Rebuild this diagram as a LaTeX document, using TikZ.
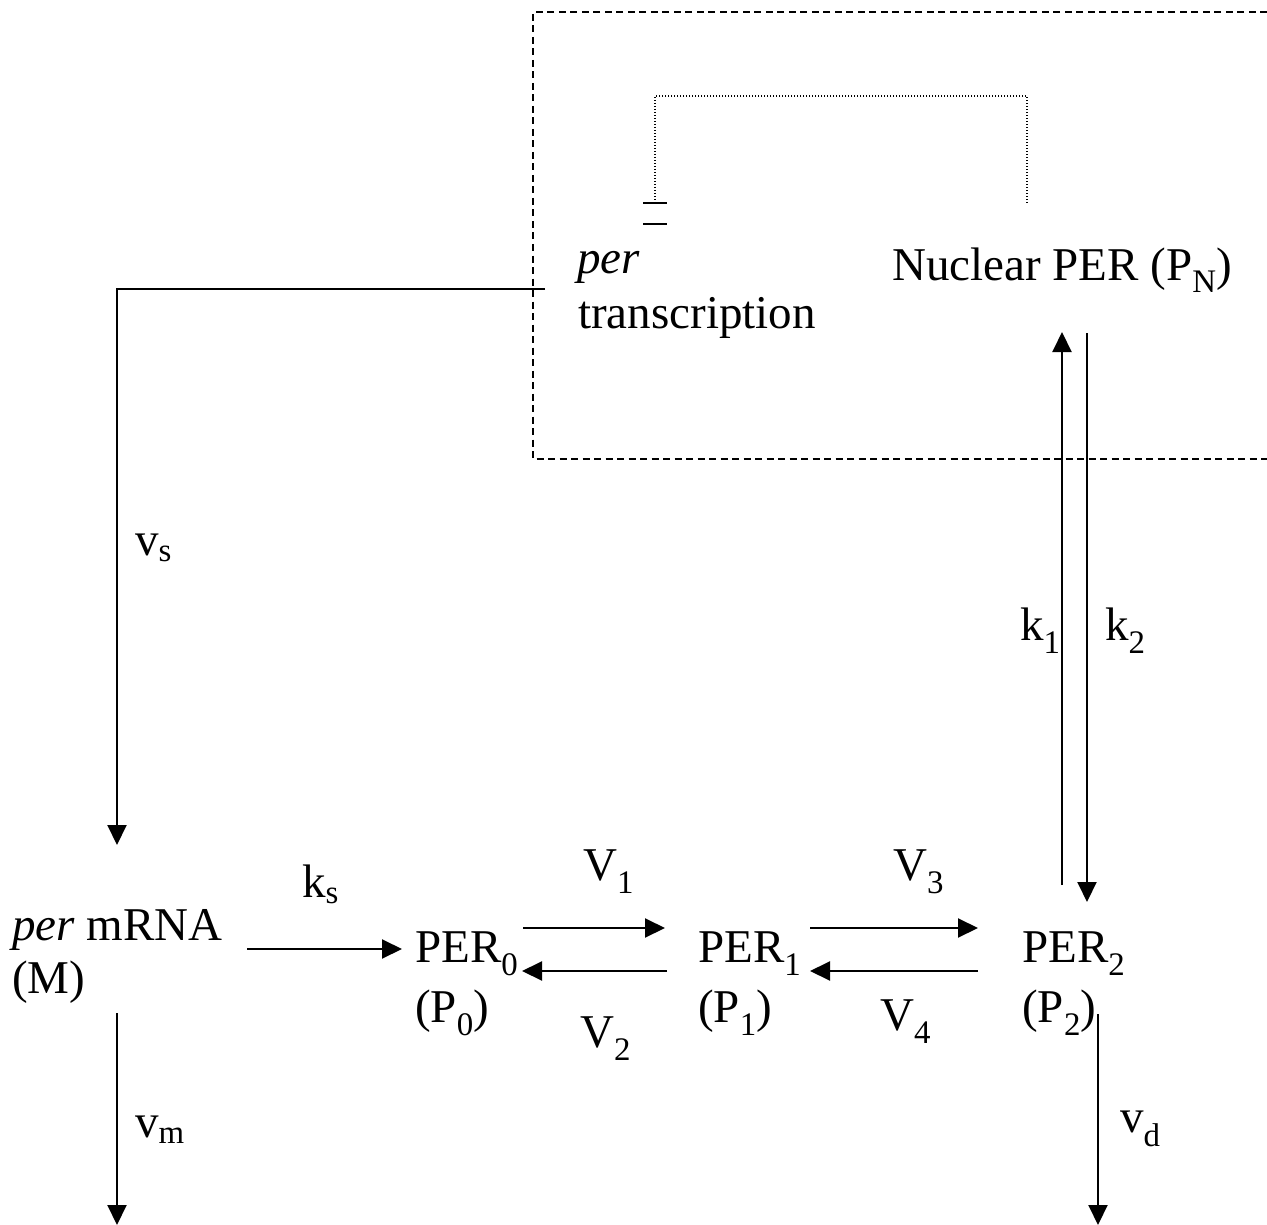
\documentclass[tikz,border=0pt]{standalone}
\usepackage{fontspec}
\setmainfont{Liberation Serif}
\usetikzlibrary{arrows.meta}
\newcommand{\sbs}[1]{\textsubscript{#1}}
\begin{document}
\begin{tikzpicture}[x=1pt,y=-1pt,
  lbl/.style={inner sep=0pt,anchor=base west,font=\fontsize{47}{54}\selectfont},
  conn/.style={line width=2pt},
  arr/.style={line width=2pt,-{Triangle[length=20pt,width=19pt]}},
  boxline/.style={line width=1.6pt,dash pattern=on 7pt off 4.5pt},
  dotline/.style={line width=1.3pt,dash pattern=on 1.3pt off 1.7pt},
  barline/.style={line width=2pt}]
\useasboundingbox (0,0) rectangle (1267,1225);
% nucleus region
\draw[boxline] (1267,12) -- (533,12) -- (533,459) -- (1267,459);
% text nodes
\node[lbl] (perA) at (577,274) {\itshape per};
\node[lbl] (perB) at (578,328) {transcription};
\node[lbl] (PN) at (892,280) {Nuclear PER (P\sbs{N})};
\node[lbl] (MA) at (12,940) {\textit{per} mRNA};
\node[lbl] (MB) at (12,993) {(M)};
\node[lbl] (P0A) at (415,962) {PER\sbs{0}};
\node[lbl] (P0B) at (415,1022) {(P\sbs{0})};
\node[lbl] (P1A) at (698,962) {PER\sbs{1}};
\node[lbl] (P1B) at (698,1022) {(P\sbs{1})};
\node[lbl] (P2A) at (1022,962) {PER\sbs{2}};
\node[lbl] (P2B) at (1022,1022) {(P\sbs{2})};
\node[lbl] (vs) at (135,555) {v\sbs{s}};
\node[lbl] (k1) at (1020,640) {k\sbs{1}};
\node[lbl] (k2) at (1105,640) {k\sbs{2}};
\node[lbl] (ks) at (302,897) {k\sbs{s}};
\node[lbl] (V1) at (583,880) {V\sbs{1}};
\node[lbl] (V2) at (580,1047) {V\sbs{2}};
\node[lbl] (V3) at (893,880) {V\sbs{3}};
\node[lbl] (V4) at (880,1030) {V\sbs{4}};
\node[lbl] (vm) at (135,1137) {v\sbs{m}};
\node[lbl] (vd) at (1120,1132) {v\sbs{d}};
% connector end points
\coordinate (trS) at (545,289);
\coordinate (trC) at (117,289);
\coordinate (mTop) at (117,845);
\coordinate (ksS) at (247,949);
\coordinate (ksE) at (402,949);
\coordinate (v1S) at (523,928);
\coordinate (v1E) at (665,928);
\coordinate (v2S) at (667,971);
\coordinate (v2E) at (522,971);
\coordinate (v3S) at (810,928);
\coordinate (v3E) at (978,928);
\coordinate (v4S) at (978,971);
\coordinate (v4E) at (810,971);
\coordinate (k1S) at (1062,885);
\coordinate (k1E) at (1062,332);
\coordinate (k2S) at (1087,333);
\coordinate (k2E) at (1087,902);
\coordinate (vmS) at (117,1013);
\coordinate (vmE) at (117,1225);
\coordinate (vdS) at (1098,1014);
\coordinate (vdE) at (1098,1225);
\coordinate (inhA) at (655,203);
\coordinate (inhB) at (655,96);
\coordinate (inhC) at (1027,96);
\coordinate (inhD) at (1027,203);
\coordinate (barAL) at (643,203);
\coordinate (barAR) at (667,203);
\coordinate (barBL) at (643,224);
\coordinate (barBR) at (667,224);
% connectors
\draw[arr] (trS) -- (trC) -- (mTop);
\draw[arr] (ksS) -- (ksE);
\draw[arr] (v1S) -- (v1E);
\draw[arr] (v2S) -- (v2E);
\draw[arr] (v3S) -- (v3E);
\draw[arr] (v4S) -- (v4E);
\draw[arr] (k1S) -- (k1E);
\draw[arr] (k2S) -- (k2E);
\draw[arr] (vmS) -- (vmE);
\draw[arr] (vdS) -- (vdE);
% repression feedback
\draw[dotline] (inhD) -- (inhC) -- (inhB) -- (inhA);
\draw[barline] (barAL) -- (barAR);
\draw[barline] (barBL) -- (barBR);
\end{tikzpicture}
\end{document}
